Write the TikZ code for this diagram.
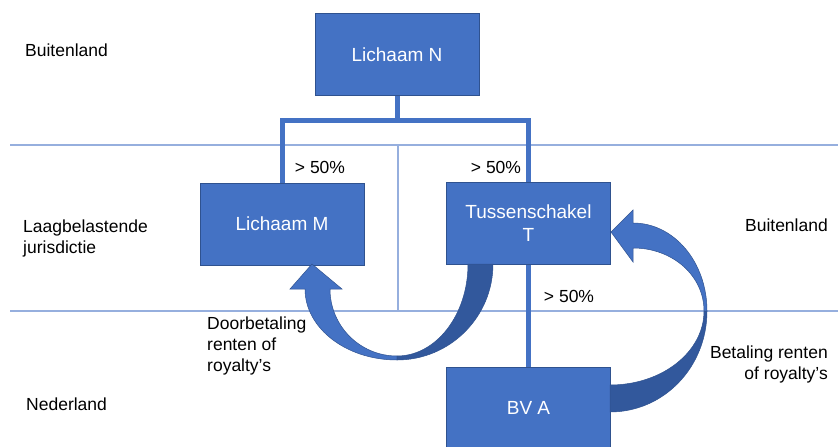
\documentclass[tikz,border=0pt]{standalone}
\usepackage{fontspec}
\setmainfont{Liberation Sans}

\definecolor{boxblue}{RGB}{68,114,196}
\definecolor{edgeblue}{RGB}{47,82,143}
\definecolor{shadeblue}{RGB}{50,88,156}
\definecolor{zoneblue}{RGB}{150,175,222}

\begin{document}
\begin{tikzpicture}[
x=1pt, y=-1pt,
every node/.style={
inner sep=0pt,
font=\fontsize{17.5}{21}\selectfont
},
own/.style={draw=boxblue, line width=5pt}
]

% =====================================================
% Styles
% =====================================================

\tikzstyle{entity} =
[rectangle,
fill=boxblue,
draw=edgeblue,
line width=0.8pt,
minimum width=164pt,
minimum height=82pt,
text=white,
align=center,
font=\fontsize{19}{23}\selectfont]

\tikzstyle{zone} =
[draw=zoneblue,
line width=1.2pt]

\tikzstyle{bendlight} =
[fill=boxblue,
draw=edgeblue,
line width=0.5pt]

\tikzstyle{bendshade} =
[fill=shadeblue,
draw=edgeblue,
line width=0.5pt]

\useasboundingbox (0,0) rectangle (838,447);

% =====================================================
% Zones
% =====================================================

\draw [zone] (10,145) -- (838,145);

\draw [zone] (10,311) -- (838,311);

\draw [zone] (398,145) -- (398,311);

\node (buiten) [anchor=west] at (25,50) {Buitenland};

\node (laag) [anchor=west, align=left] at (23,238)
{Laagbelastende\\jurisdictie};

\node (nl) [anchor=west] at (26,404) {Nederland};

\node (buitenr) [anchor=east] at (828,225) {Buitenland};

% =====================================================
% Nodes
% =====================================================

\node (lichaamN) [entity] at (397,54.5)
{Lichaam N};

\node (lichaamM) [entity] at (282,224)
{Lichaam M};

\node (tussen) [entity] at (528.5,223.5)
{Tussenschakel\\T};

\node (bva) [entity] at (528.5,408)
{BV A};

% =====================================================
% Arrows
% =====================================================

\coordinate (split) at (397,120);

\draw [own] (lichaamN.south) -- (split);

\draw [own] (lichaamM.north) |- (split) -| (tussen.north);

\draw [own] (tussen.south) -- (bva.north);

\node (pctM) at (320,167) {> 50\%};

\node (pctT) at (496,167) {> 50\%};

\node (pctA) at (569,296) {> 50\%};

% doorbetaling T -> M
\path [bendlight] (312,264) -- (342,289) -- (330,289)
.. controls (330,326) and (360,356) .. (397,356)
-- (397,360)
.. controls (346,360) and (305,328) .. (305,289)
-- (290,289) -- cycle;

\path [bendshade] (397,356)
.. controls (436,356) and (468,315) .. (468,264)
-- (493,264)
.. controls (493,317) and (450,360) .. (397,360) -- cycle;

\node (doorbet) [anchor=west, align=left] at (207,346)
{Doorbetaling\\renten of\\royalty’s};

% betaling BV A -> T
\path [bendshade] (704,311)
.. controls (704,352) and (662,385) .. (610,385)
-- (610,412)
.. controls (664,412) and (707,367) .. (707,311) -- cycle;

\path [bendlight] (611,232) -- (633,210) -- (633,223)
.. controls (674,223) and (707,262) .. (707,311)
-- (704,311)
.. controls (704,276) and (673,248) .. (633,248)
-- (633,262) -- cycle;

\node (betaling) [anchor=east, align=right] at (828,364)
{Betaling renten\\of royalty’s};

\end{tikzpicture}
\end{document}
